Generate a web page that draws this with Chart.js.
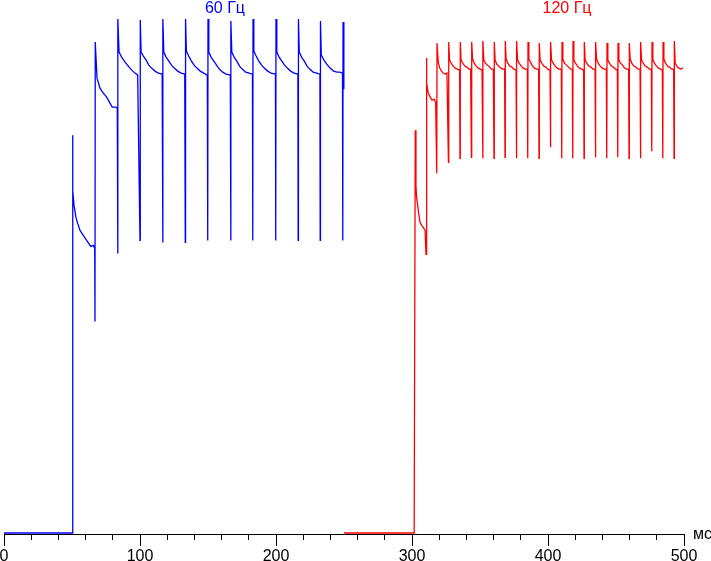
<!DOCTYPE html>
<html>
<head>
<meta charset="utf-8">
<script src="https://cdn.jsdelivr.net/npm/chart.js@4.4.1/dist/chart.umd.min.js"></script>
<style>
    body { margin: 0; background: #fff; }
    canvas { display: block; }
</style>
</head>
<body>
<canvas id="responseChart" width="711" height="561"></canvas>
<script>
// 60 Hz trace: time (ms) and level (relative units)
const blueMs = [
    0, 50.2,
    50.4, 50.7, 51.5, 52.9, 54.2, 55.9, 58.3, 60.8, 63.8, 65.7, 66.7,
    66.9, 67.1, 68.4, 70.6, 73.0, 75.5, 77.9, 79.6, 82.1, 83.3,
    83.6, 83.8, 84.6, 86.5, 89.0, 91.4, 93.9, 96.3, 98.3,
    100.0, 100.2, 100.8, 102.5, 104.5, 106.5, 108.5, 111.0, 113.5, 116.3,
    116.7, 116.9, 117.5, 119.2, 121.2, 123.2, 125.2, 127.7, 130.2, 132.9,
    133.3, 133.5, 134.1, 135.8, 137.8, 139.8, 141.8, 144.3, 146.8, 149.5,
    149.8, 150.0, 150.6, 152.3, 154.3, 156.3, 158.3, 160.8, 163.3, 166.4,
    166.7, 166.9, 167.5, 169.2, 171.2, 173.2, 175.2, 177.7, 180.2, 182.7,
    182.9, 183.1, 183.7, 185.4, 187.4, 189.4, 191.4, 193.9, 196.4, 199.6,
    199.8, 200.0, 200.6, 202.3, 204.3, 206.3, 208.3, 210.8, 213.3, 216.1,
    216.3, 216.5, 217.1, 218.8, 220.8, 222.8, 224.8, 227.3, 229.8, 232.3,
    232.5, 232.7, 233.3, 235.3, 237.3, 239.8, 242.3, 244.8, 246.8, 248.9,
    249.1, 249.3, 249.9
];
const blueLevel = [
    1, 1,
    398, 342, 328, 316, 310, 303, 298, 293, 287, 288, 285,
    212, 491, 455, 445, 440, 436, 430, 426, 426, 425,
    280, 514, 481, 476, 471, 467, 463, 460, 458,
    293, 513, 481, 477, 473, 468, 465, 462, 460, 459,
    291, 514, 481, 476, 472, 468, 465, 462, 460, 459,
    291, 514, 482, 477, 472, 468, 465, 462, 460, 458,
    293, 514, 481, 476, 472, 468, 464, 461, 459, 458,
    293, 512, 481, 476, 472, 467, 464, 461, 460, 459,
    293, 514, 482, 477, 472, 468, 465, 462, 460, 459,
    293, 514, 481, 476, 472, 468, 465, 462, 460, 459,
    293, 514, 481, 476, 472, 467, 464, 461, 460, 459,
    293, 512, 478, 473, 469, 465, 462, 461, 461, 460,
    293, 511, 444
];

// 120 Hz trace
const redMs = [
    250, 301.6,
    302.4, 302.9, 303.4, 304.2, 304.9, 305.9, 307.1, 308.3, 309.6,
    310.3, 310.5, 311.0, 311.8, 312.7, 313.8, 314.7, 316.2, 317.4,
    318.2, 318.4, 319.3, 320.4, 321.3, 322.8, 324.3, 325.7,
    326.8, 327.0, 327.6, 328.8, 330.3, 331.8, 333.3, 335.0,
    335.3, 335.5, 336.1, 337.3, 338.8, 340.3, 341.8, 343.1,
    343.7, 343.9, 344.5, 345.7, 347.2, 348.7, 350.2, 351.5,
    352.0, 352.2, 352.8, 354.0, 355.5, 357.0, 358.5, 359.8,
    360.3, 360.5, 361.1, 362.3, 363.8, 365.3, 366.8, 368.1,
    368.4, 368.6, 369.2, 370.4, 371.9, 373.4, 374.9, 376.5,
    376.8, 377.0, 377.6, 378.8, 380.3, 381.8, 383.3, 384.8,
    385.1, 385.3, 385.9, 387.1, 388.6, 390.1, 391.6, 393.1,
    393.4, 393.6, 394.2, 395.4, 396.9, 398.4, 399.9, 401.5,
    401.8, 402.0, 402.6, 403.8, 405.3, 406.8, 408.3, 409.8,
    410.1, 410.3, 410.9, 412.1, 413.6, 415.1, 416.6, 417.9,
    418.2, 418.4, 419.0, 420.2, 421.7, 423.2, 424.7, 426.2,
    426.5, 426.7, 427.3, 428.5, 430.0, 431.5, 433.0, 434.6,
    434.9, 435.1, 435.7, 436.9, 438.4, 439.9, 441.4, 442.9,
    443.2, 443.4, 444.0, 445.2, 446.7, 448.2, 449.7, 451.0,
    451.3, 451.5, 452.1, 453.3, 454.8, 456.3, 457.8, 459.3,
    459.6, 459.8, 460.4, 461.6, 463.1, 464.6, 466.1, 467.7,
    468.0, 468.2, 468.8, 470.0, 471.5, 473.0, 474.5, 476.0,
    476.3, 476.5, 477.1, 478.3, 479.8, 481.3, 482.8, 484.1,
    484.4, 484.6, 485.2, 486.4, 487.9, 489.4, 490.9, 492.4,
    492.7, 492.9, 493.5, 494.7, 496.2, 497.7, 499.2
];
const redLevel = [
    1, 1,
    403, 348, 336, 328, 320, 311, 308, 306, 303,
    279, 475, 450, 441, 438, 435, 433, 434, 431,
    360, 490, 471, 465, 463, 460, 459, 460,
    371, 491, 473, 470, 467, 465, 464, 463,
    375, 491, 473, 470, 467, 466, 464, 464,
    376, 491, 474, 470, 467, 465, 464, 463,
    375, 492, 473, 470, 468, 466, 464, 464,
    375, 491, 473, 469, 467, 465, 464, 464,
    376, 492, 474, 470, 467, 466, 464, 463,
    375, 492, 473, 470, 467, 465, 464, 464,
    375, 491, 474, 471, 467, 465, 464, 464,
    375, 490, 473, 470, 467, 466, 464, 463,
    386, 491, 473, 470, 467, 465, 464, 464,
    375, 491, 474, 470, 468, 466, 464, 464,
    375, 492, 473, 470, 467, 465, 464, 463,
    375, 491, 473, 470, 467, 466, 464, 464,
    376, 491, 474, 470, 467, 465, 464, 464,
    375, 490, 473, 470, 467, 466, 464, 463,
    376, 490, 473, 470, 468, 465, 464, 464,
    375, 490, 474, 470, 467, 466, 464, 464,
    375, 491, 473, 470, 467, 466, 464, 464,
    382, 491, 473, 470, 467, 465, 464, 463,
    375, 491, 474, 470, 467, 466, 464, 464,
    375, 492, 470, 467, 465, 464, 465
];

const seriesLabels = ['60 Гц', '120 Гц'];
const seriesColors = ['#0000ff', '#ff0000'];
const unitLabel = 'мс';

function toPoints(xs, ys) {
    const n = Math.min(xs.length, ys.length);
    const pts = [];
    for (let i = 0; i < n; i++) pts.push({ x: xs[i], y: ys[i] });
    return pts;
}

// series names above each trace + unit at the end of the axis
const textPlugin = {
    id: 'texts',
    afterDraw(chart) {
        const ctx = chart.ctx;
        const x = chart.scales.x;
        ctx.save();
        ctx.font = '16px "Liberation Sans", Arial, sans-serif';
        ctx.textAlign = 'center';
        ctx.textBaseline = 'alphabetic';
        ctx.fillStyle = seriesColors[0];
        ctx.fillText(seriesLabels[0], x.getPixelForValue(162.5), 13);
        ctx.fillStyle = seriesColors[1];
        ctx.fillText(seriesLabels[1], x.getPixelForValue(414), 13);
        ctx.fillStyle = '#000';
        ctx.textAlign = 'left';
        ctx.fillText(unitLabel, x.right + 9, x.top + 5);
        ctx.restore();
    }
};

new Chart(document.getElementById('responseChart'), {
    type: 'line',
    data: {
        datasets: [{
            label: seriesLabels[0],
            data: toPoints(blueMs, blueLevel),
            borderColor: seriesColors[0],
            borderWidth: 1.3,
            pointRadius: 0,
            tension: 0,
            fill: false
        }, {
            label: seriesLabels[1],
            data: toPoints(redMs, redLevel),
            borderColor: seriesColors[1],
            borderWidth: 1.3,
            pointRadius: 0,
            tension: 0,
            fill: false
        }]
    },
    options: {
        responsive: false,
        animation: false,
        devicePixelRatio: 1,
        layout: { padding: { left: 0, right: 27, top: 13, bottom: -7 } },
        plugins: { legend: { display: false }, tooltip: { enabled: false } },
        scales: {
            x: {
                type: 'linear',
                min: 0,
                max: 500,
                afterFit: (scale) => { scale.paddingLeft = 4; },
                border: { display: true, color: '#000', width: 1 },
                grid: {
                    drawOnChartArea: false,
                    drawTicks: true,
                    tickLength: 12,
                    tickColor: '#000',
                    tickBorderDash: (c) => (c.tick && c.tick.value % 100 !== 0) ? [5, 40] : []
                },
                ticks: {
                    stepSize: 20,
                    maxTicksLimit: 30,
                    autoSkip: false,
                    maxRotation: 0,
                    padding: 3,
                    color: '#000',
                    font: { family: '"Liberation Sans", Arial, sans-serif', size: 16, lineHeight: 1 },
                    callback: (v) => v % 100 === 0 ? v : ''
                }
            },
            y: {
                display: false,
                min: 0,
                max: 520
            }
        }
    },
    plugins: [textPlugin]
});
</script>
</body>
</html>
